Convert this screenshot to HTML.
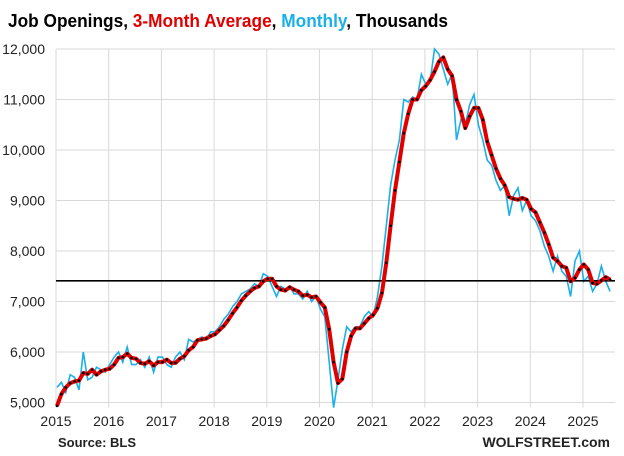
<!DOCTYPE html>
<html><head><meta charset="utf-8"><style>
html,body{margin:0;padding:0;background:#fff;}
svg{display:block;font-family:"Liberation Sans",sans-serif;}
</style></head><body>
<svg id="c" width="624" height="456" viewBox="0 0 624 456" xmlns="http://www.w3.org/2000/svg">
<text x="8" y="27" font-size="18" font-weight="bold" textLength="440" lengthAdjust="spacingAndGlyphs"><tspan fill="#000">Job Openings, </tspan><tspan fill="#e00000">3-Month Average</tspan><tspan fill="#000">, </tspan><tspan fill="#1ab0e8">Monthly</tspan><tspan fill="#000">, Thousands</tspan></text>
<g id="grid"></g>
<g id="lab" font-size="14" fill="#222"></g>
<text x="58" y="447" font-size="13" font-weight="bold" fill="#222">Source: BLS</text>
<text x="610" y="447" font-size="14" font-weight="bold" fill="#222" text-anchor="end">WOLFSTREET.com</text>
<g id="data"></g>
</svg>
<script>
const pre=[4700,4800];
const m=[5300,5400,5200,5550,5500,5250,6000,5450,5500,5700,5650,5600,
5750,5900,6000,5800,6100,5750,5750,5850,5700,5900,5600,5900,
5900,5750,5700,5900,6000,5850,6250,6200,6250,6300,6250,6400,
6400,6500,6650,6750,6900,7000,7150,7200,7250,7350,7300,7550,
7500,7300,7100,7300,7250,7300,7150,7150,7050,7200,7000,7100,
6850,6700,5800,4900,5450,6050,6500,6400,6500,6500,6700,6800,
6700,7100,7700,8500,9300,9800,10200,11000,10950,11050,11000,11500,
11300,11350,12000,11900,11600,11300,11500,10200,10600,10500,10900,11100,
10500,10200,9800,9700,9400,9200,9300,8700,9100,9250,8800,9000,
8700,8600,8400,8100,7900,7600,7900,7600,7500,7100,7800,8000,
7400,7500,7200,7350,7700,7400,7200];
const X=i=>57+i*4.39, Y=v=>49+(12000-v)*0.0505;
const ns="http://www.w3.org/2000/svg";
function el(p,t,a){const e=document.createElementNS(ns,t);for(const k in a)e.setAttribute(k,a[k]);document.getElementById(p).appendChild(e);return e;}
for(let v=5000;v<=12000;v+=1000){el('grid','line',{x1:56,x2:615,y1:Y(v),y2:Y(v),stroke:'#d9d9d9','stroke-width':1});
const t=el('lab','text',{x:45,y:Y(v)+5,'text-anchor':'end'});t.textContent=v.toLocaleString('en-US');}
for(let y=0;y<=10;y++){const x=56+y*52.7;el('grid','line',{x1:x,x2:x,y1:49,y2:Y(5000)+5,stroke:'#d9d9d9','stroke-width':1});
const t=el('lab','text',{x:x,y:426,'text-anchor':'middle'});t.textContent=2015+y;}
let p=m.map((v,i)=>X(i).toFixed(1)+','+Y(v).toFixed(1)).join(' ');
el('data','polyline',{points:p,fill:'none',stroke:'#1ab0e8','stroke-width':1.6});
const full=pre.concat(m);
const a=m.map((v,i)=>(full[i]+full[i+1]+full[i+2])/3);
el('data','line',{x1:56,x2:615,y1:Y(7410),y2:Y(7410),stroke:'#000','stroke-width':1.6});
p=a.map((v,i)=>X(i).toFixed(1)+','+Y(v).toFixed(1)).join(' ');
el('data','polyline',{points:p,fill:'none',stroke:'#e00000','stroke-width':4,'stroke-linejoin':'round'});
a.forEach((v,i)=>el('data','circle',{cx:X(i),cy:Y(v),r:1.3,fill:'#000'}));
</script>
</body></html>
